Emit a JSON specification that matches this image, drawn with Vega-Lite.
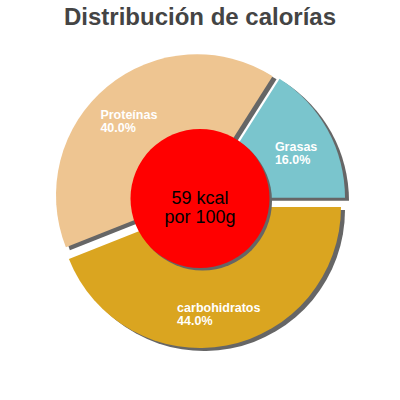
{
  "$schema": "https://vega.github.io/schema/vega-lite/v6.json",
  "width": 400,
  "height": 320,
  "autosize": "none",
  "padding": {"top": 40, "left": 0, "right": 0, "bottom": 0},
  "background": "white",
  "config": {"view": {"stroke": null}},
  "title": {
    "text": "Distribución de calorías",
    "font": "Liberation Sans",
    "fontSize": 24,
    "fontWeight": "bold",
    "color": "#444444",
    "anchor": "middle",
    "frame": "group",
    "offset": 10
  },
  "datasets": {
    "macros": [
      {"nutriente": "Grasas", "pct": 16, "etiqueta": "Grasas\n16.0%"},
      {"nutriente": "carbohidratos", "pct": 44, "etiqueta": "carbohidratos\n44.0%"},
      {"nutriente": "Proteínas", "pct": 40, "etiqueta": "Proteínas\n40.0%"}
    ],
    "centro": [
      {"texto": "59 kcal\npor 100g"}
    ]
  },
  "layer": [
    {
      "data": {"name": "macros"},
      "mark": {"type": "arc", "radius": 141, "color": "#666666", "xOffset": 4, "yOffset": 10},
      "encoding": {
        "theta": {"field": "pct", "type": "quantitative", "stack": true, "scale": {"domain": [0, 100], "range": [1.5707963, 7.8539816]}},
        "order": {"field": "nutriente", "sort": "descending"},
        "detail": {"field": "nutriente"},
        "opacity": {"condition": {"test": "datum.nutriente === 'carbohidratos'", "value": 1}, "value": 0}
      }
    },
    {
      "data": {"name": "macros"},
      "mark": {"type": "arc", "radius": 141, "color": "#666666", "xOffset": 8, "yOffset": 0.7},
      "encoding": {
        "theta": {"field": "pct", "type": "quantitative", "stack": true, "scale": {"domain": [0, 100], "range": [1.5707963, 7.8539816]}},
        "order": {"field": "nutriente", "sort": "descending"},
        "detail": {"field": "nutriente"},
        "opacity": {"condition": {"test": "datum.nutriente === 'Grasas'", "value": 1}, "value": 0}
      }
    },
    {
      "data": {"name": "macros"},
      "mark": {"type": "arc", "radius": 141, "color": "#666666", "xOffset": 1, "yOffset": -1.7},
      "encoding": {
        "theta": {"field": "pct", "type": "quantitative", "stack": true, "scale": {"domain": [0, 100], "range": [1.5707963, 7.8539816]}},
        "order": {"field": "nutriente", "sort": "descending"},
        "detail": {"field": "nutriente"},
        "opacity": {"condition": {"test": "datum.nutriente === 'Proteínas'", "value": 1}, "value": 0}
      }
    },
    {
      "data": {"name": "macros"},
      "mark": {"type": "arc", "radius": 141, "xOffset": 0, "yOffset": 7},
      "encoding": {
        "theta": {"field": "pct", "type": "quantitative", "stack": true, "scale": {"domain": [0, 100], "range": [1.5707963, 7.8539816]}},
        "order": {"field": "nutriente", "sort": "descending"},
        "color": {"field": "nutriente", "type": "nominal", "scale": {"domain": ["Grasas", "carbohidratos", "Proteínas"], "range": ["#7AC5CD", "#DAA520", "#EEC591"]}, "legend": null},
        "opacity": {"condition": {"test": "datum.nutriente === 'carbohidratos'", "value": 1}, "value": 0}
      }
    },
    {
      "data": {"name": "macros"},
      "mark": {"type": "arc", "radius": 141, "xOffset": 4, "yOffset": -2.3},
      "encoding": {
        "theta": {"field": "pct", "type": "quantitative", "stack": true, "scale": {"domain": [0, 100], "range": [1.5707963, 7.8539816]}},
        "order": {"field": "nutriente", "sort": "descending"},
        "color": {"field": "nutriente", "type": "nominal", "scale": {"domain": ["Grasas", "carbohidratos", "Proteínas"], "range": ["#7AC5CD", "#DAA520", "#EEC591"]}, "legend": null},
        "opacity": {"condition": {"test": "datum.nutriente === 'Grasas'", "value": 1}, "value": 0}
      }
    },
    {
      "data": {"name": "macros"},
      "mark": {"type": "arc", "radius": 141, "xOffset": -3, "yOffset": -4.7},
      "encoding": {
        "theta": {"field": "pct", "type": "quantitative", "stack": true, "scale": {"domain": [0, 100], "range": [1.5707963, 7.8539816]}},
        "order": {"field": "nutriente", "sort": "descending"},
        "color": {"field": "nutriente", "type": "nominal", "scale": {"domain": ["Grasas", "carbohidratos", "Proteínas"], "range": ["#7AC5CD", "#DAA520", "#EEC591"]}, "legend": null},
        "opacity": {"condition": {"test": "datum.nutriente === 'Proteínas'", "value": 1}, "value": 0}
      }
    },
    {
      "data": {"name": "macros"},
      "mark": {"type": "text", "radius": 110, "align": "left", "baseline": "middle", "dx": -43.5, "lineBreak": "\n", "font": "Liberation Sans", "fontSize": 12.5, "fontWeight": "bold", "lineHeight": 12.5, "color": "white"},
      "encoding": {
        "theta": {"field": "pct", "type": "quantitative", "stack": true, "scale": {"domain": [0, 100], "range": [1.5707963, 7.8539816]}},
        "order": {"field": "nutriente", "sort": "descending"},
        "detail": {"field": "nutriente"},
        "text": {"field": "etiqueta", "type": "nominal"},
        "opacity": {"condition": {"test": "datum.nutriente === 'carbohidratos'", "value": 1}, "value": 0}
      }
    },
    {
      "data": {"name": "macros"},
      "mark": {"type": "text", "radius": 110, "align": "left", "baseline": "middle", "dx": -21.5, "lineBreak": "\n", "font": "Liberation Sans", "fontSize": 12.5, "fontWeight": "bold", "lineHeight": 12.5, "color": "white"},
      "encoding": {
        "theta": {"field": "pct", "type": "quantitative", "stack": true, "scale": {"domain": [0, 100], "range": [1.5707963, 7.8539816]}},
        "order": {"field": "nutriente", "sort": "descending"},
        "detail": {"field": "nutriente"},
        "text": {"field": "etiqueta", "type": "nominal"},
        "opacity": {"condition": {"test": "datum.nutriente === 'Grasas'", "value": 1}, "value": 0}
      }
    },
    {
      "data": {"name": "macros"},
      "mark": {"type": "text", "radius": 110, "align": "left", "baseline": "middle", "dx": -29.5, "lineBreak": "\n", "font": "Liberation Sans", "fontSize": 12.5, "fontWeight": "bold", "lineHeight": 12.5, "color": "white"},
      "encoding": {
        "theta": {"field": "pct", "type": "quantitative", "stack": true, "scale": {"domain": [0, 100], "range": [1.5707963, 7.8539816]}},
        "order": {"field": "nutriente", "sort": "descending"},
        "detail": {"field": "nutriente"},
        "text": {"field": "etiqueta", "type": "nominal"},
        "opacity": {"condition": {"test": "datum.nutriente === 'Proteínas'", "value": 1}, "value": 0}
      }
    },
    {
      "data": {"name": "centro"},
      "mark": {"type": "circle", "size": 19321, "color": "#666666", "opacity": 1, "xOffset": 2.5, "yOffset": 1},
      "encoding": {}
    },
    {
      "data": {"name": "centro"},
      "mark": {"type": "circle", "size": 19321, "color": "#FF0000", "opacity": 1, "yOffset": -1.5},
      "encoding": {}
    },
    {
      "data": {"name": "centro"},
      "mark": {"type": "text", "font": "Liberation Sans", "fontSize": 18, "lineHeight": 19, "lineBreak": "\n", "align": "center", "baseline": "middle", "color": "black", "yOffset": -1.5},
      "encoding": {"text": {"field": "texto", "type": "nominal"}}
    }
  ]
}
